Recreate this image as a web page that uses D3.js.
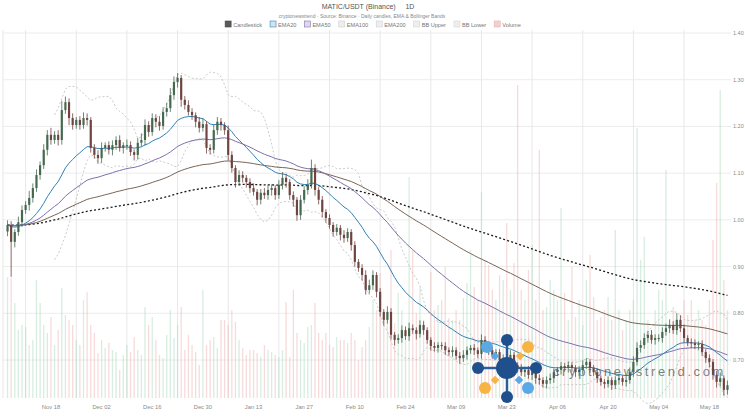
<!DOCTYPE html>
<html><head><meta charset="utf-8">
<script src="https://cdn.jsdelivr.net/npm/d3@7"></script>
<style>body{margin:0;background:#fff;} svg{display:block;font-family:"Liberation Sans","DejaVu Sans",sans-serif;}</style>
</head><body><svg id="c" width="745" height="419"></svg>
<script>
const titleText = "MATIC/USDT (Binance)     1D";
const subtitleText = "cryptonewstrend · Source: Binance · Daily candles, EMA & Bollinger Bands";
const startDate = "2023-11-06";
const closes = [
0.989,0.953,0.974,0.995,1.021,1.032,1.047,1.068,1.096,1.117,
1.150,1.182,1.171,1.182,1.171,1.235,1.252,1.218,1.203,1.214,
1.203,1.218,1.214,1.154,1.139,1.132,1.154,1.160,1.150,1.160,
1.171,1.154,1.160,1.160,1.145,1.139,1.165,1.171,1.203,1.188,
1.218,1.210,1.201,1.231,1.239,1.267,1.295,1.304,1.257,1.246,
1.231,1.224,1.210,1.197,1.205,1.154,1.150,1.192,1.210,1.203,
1.192,1.139,1.111,1.081,1.096,1.090,1.081,1.068,1.060,1.043,
1.058,1.053,1.064,1.068,1.053,1.075,1.090,1.081,1.053,1.043,
1.010,1.043,1.064,1.075,1.111,1.064,1.043,1.017,1.004,0.989,
0.974,0.983,0.968,0.961,0.974,0.946,0.910,0.897,0.882,0.850,
0.860,0.882,0.846,0.803,0.786,0.803,0.754,0.743,0.747,0.764,
0.751,0.768,0.764,0.756,0.775,0.764,0.743,0.730,0.726,0.732,
0.730,0.721,0.717,0.721,0.709,0.704,0.711,0.721,0.726,0.721,
0.713,0.743,0.732,0.721,0.711,0.717,0.700,0.704,0.696,0.711,
0.689,0.683,0.674,0.679,0.668,0.674,0.661,0.657,0.649,0.657,
0.661,0.674,0.679,0.687,0.683,0.689,0.683,0.674,0.679,0.689,
0.696,0.683,0.674,0.661,0.653,0.649,0.657,0.646,0.657,0.661,
0.653,0.657,0.674,0.696,0.726,0.732,0.747,0.754,0.743,0.747,
0.747,0.760,0.768,0.775,0.764,0.786,0.768,0.747,0.738,0.736,
0.732,0.734,0.717,0.704,0.696,0.668,0.653,0.661,0.636,0.646];
const opens = [
0.975,0.989,0.953,0.974,0.995,1.021,1.032,1.047,1.068,1.096,
1.117,1.150,1.182,1.171,1.182,1.171,1.235,1.252,1.218,1.203,
1.214,1.203,1.218,1.214,1.154,1.139,1.132,1.154,1.160,1.150,
1.160,1.171,1.154,1.160,1.160,1.145,1.139,1.165,1.171,1.203,
1.188,1.218,1.210,1.201,1.231,1.239,1.267,1.295,1.304,1.257,
1.246,1.231,1.224,1.210,1.197,1.205,1.154,1.150,1.192,1.210,
1.203,1.192,1.139,1.111,1.081,1.096,1.090,1.081,1.068,1.060,
1.043,1.058,1.053,1.064,1.068,1.053,1.075,1.090,1.081,1.053,
1.043,1.010,1.043,1.064,1.075,1.111,1.064,1.043,1.017,1.004,
0.989,0.974,0.983,0.968,0.961,0.974,0.946,0.910,0.897,0.882,
0.850,0.860,0.882,0.846,0.803,0.786,0.803,0.754,0.743,0.747,
0.764,0.751,0.768,0.764,0.756,0.775,0.764,0.743,0.730,0.726,
0.732,0.730,0.721,0.717,0.721,0.709,0.704,0.711,0.721,0.726,
0.721,0.713,0.743,0.732,0.721,0.711,0.717,0.700,0.704,0.696,
0.711,0.689,0.683,0.674,0.679,0.668,0.674,0.661,0.657,0.649,
0.657,0.661,0.674,0.679,0.687,0.683,0.689,0.683,0.674,0.679,
0.689,0.696,0.683,0.674,0.661,0.653,0.649,0.657,0.646,0.657,
0.661,0.653,0.657,0.674,0.696,0.726,0.732,0.747,0.754,0.743,
0.747,0.747,0.760,0.768,0.775,0.764,0.786,0.768,0.747,0.738,
0.736,0.732,0.734,0.717,0.704,0.696,0.668,0.653,0.661,0.636];
const wickHi = [
0.010,0.008,0.006,0.012,0.010,0.008,0.015,0.010,0.012,0.008,
0.012,0.010,0.015,0.008,0.010,0.020,0.012,0.008,0.010,0.006,
0.008,0.012,0.010,0.006,0.008,0.010,0.012,0.006,0.008,0.010,
0.008,0.010,0.006,0.012,0.008,0.006,0.010,0.014,0.012,0.008,
0.010,0.008,0.012,0.010,0.012,0.015,0.012,0.010,0.006,0.008,
0.010,0.008,0.006,0.010,0.012,0.006,0.008,0.012,0.010,0.008,
0.006,0.010,0.008,0.006,0.010,0.008,0.006,0.008,0.010,0.006,
0.008,0.010,0.012,0.008,0.006,0.010,0.012,0.008,0.006,0.008,
0.006,0.010,0.008,0.012,0.018,0.008,0.006,0.008,0.006,0.008,
0.006,0.008,0.006,0.010,0.008,0.006,0.008,0.006,0.008,0.010,
0.012,0.010,0.006,0.008,0.006,0.012,0.008,0.006,0.008,0.010,
0.008,0.012,0.008,0.006,0.010,0.008,0.006,0.006,0.008,0.006,
0.006,0.008,0.006,0.008,0.006,0.008,0.010,0.008,0.006,0.008,
0.006,0.012,0.008,0.006,0.008,0.006,0.006,0.008,0.006,0.010,
0.006,0.006,0.008,0.006,0.008,0.006,0.006,0.008,0.006,0.008,
0.010,0.008,0.006,0.008,0.006,0.008,0.006,0.006,0.008,0.010,
0.008,0.006,0.006,0.008,0.006,0.006,0.008,0.006,0.008,0.006,
0.006,0.008,0.010,0.012,0.012,0.010,0.010,0.008,0.010,0.008,
0.008,0.010,0.010,0.012,0.008,0.014,0.010,0.008,0.006,0.008,
0.008,0.006,0.008,0.006,0.008,0.006,0.008,0.012,0.006,0.010];
const wickLo = [
0.010,0.075,0.012,0.008,0.010,0.008,0.012,0.010,0.008,0.010,
0.008,0.012,0.010,0.008,0.012,0.010,0.008,0.015,0.010,0.008,
0.010,0.008,0.012,0.010,0.008,0.012,0.010,0.008,0.010,0.012,
0.010,0.008,0.012,0.010,0.008,0.012,0.010,0.008,0.012,0.010,
0.008,0.012,0.010,0.008,0.010,0.008,0.010,0.012,0.015,0.010,
0.008,0.010,0.012,0.010,0.008,0.012,0.010,0.008,0.010,0.012,
0.010,0.012,0.010,0.012,0.008,0.010,0.012,0.010,0.008,0.012,
0.010,0.008,0.010,0.012,0.010,0.008,0.010,0.012,0.010,0.015,
0.012,0.010,0.008,0.010,0.008,0.012,0.010,0.012,0.010,0.008,
0.010,0.008,0.012,0.010,0.008,0.012,0.010,0.008,0.012,0.010,
0.008,0.010,0.012,0.010,0.012,0.008,0.010,0.012,0.008,0.010,
0.008,0.010,0.008,0.012,0.008,0.010,0.008,0.010,0.008,0.010,
0.008,0.010,0.008,0.010,0.008,0.012,0.008,0.010,0.008,0.010,
0.008,0.010,0.008,0.010,0.008,0.010,0.008,0.010,0.008,0.010,
0.008,0.010,0.008,0.010,0.008,0.010,0.012,0.010,0.008,0.010,
0.008,0.010,0.008,0.010,0.008,0.010,0.008,0.010,0.008,0.010,
0.008,0.010,0.008,0.010,0.008,0.010,0.008,0.010,0.008,0.010,
0.008,0.010,0.008,0.010,0.008,0.010,0.008,0.010,0.008,0.010,
0.008,0.010,0.008,0.010,0.008,0.010,0.008,0.010,0.008,0.010,
0.008,0.010,0.008,0.010,0.012,0.010,0.012,0.010,0.012,0.010];
const volumes = [
121,120,95,68,73,71,53,58,118,95,
73,65,81,53,68,110,83,78,73,58,
53,98,106,73,65,45,58,50,55,48,
46,28,43,53,46,61,48,43,91,73,
81,58,43,40,63,88,60,73,91,48,
63,53,46,33,108,53,58,61,50,78,
78,73,88,76,58,50,43,48,48,45,
41,53,48,46,43,41,48,96,41,108,
65,58,55,71,73,95,65,58,65,53,
51,61,58,58,55,65,58,38,51,58,
71,98,88,125,81,78,148,75,105,88,
58,221,148,85,111,78,68,126,88,93,
98,131,80,78,88,78,100,115,148,111,
98,206,138,133,108,98,123,118,175,108,
135,313,108,98,128,153,98,248,88,91,
118,108,98,190,105,78,131,81,98,73,
118,143,101,78,81,88,101,78,168,88,
68,78,88,98,270,138,161,78,68,88,
108,98,228,68,91,68,81,98,83,98,
78,88,78,73,98,158,215,308,118,88];
const priceTicks = [1.40,1.30,1.20,1.10,1.00,0.90,0.80,0.70];
const dateLabels = ["2023-11-18","2023-12-02","2023-12-16","2023-12-30","2024-01-13","2024-01-27","2024-02-10","2024-02-24","2024-03-09","2024-03-23","2024-04-06","2024-04-20","2024-05-04","2024-05-18"];
const gridDates = ["2023-11-11","2023-11-25","2023-12-09","2023-12-23","2024-01-06","2024-01-20","2024-02-03","2024-02-17","2024-03-02","2024-03-16","2024-03-30","2024-04-13","2024-04-27","2024-05-11"];
const legendItems = [
 {name:"Candlestick", fill:"#5a5a5a", stroke:"#444"},
 {name:"EMA20", fill:"#cfe3f3", stroke:"#3b86b8"},
 {name:"EMA50", fill:"#ddd8ee", stroke:"#8073b0"},
 {name:"EMA100", fill:"#eeeeee", stroke:"#cfcfcf"},
 {name:"EMA200", fill:"#eeeeee", stroke:"#cfcfcf"},
 {name:"BB Upper", fill:"#eeeeee", stroke:"#d5d5d5"},
 {name:"BB Lower", fill:"#eeeeee", stroke:"#d5d5d5"},
 {name:"Volume", fill:"#f2d0d0", stroke:"#e4b4b4"}];

const parse = d3.timeParse("%Y-%m-%d");
const start = parse(startDate);
const data = closes.map((c,i)=>({
  date: d3.timeDay.offset(start, i), key: d3.timeFormat("%Y-%m-%d")(d3.timeDay.offset(start, i)),
  open: opens[i], close: c,
  high: Math.max(opens[i], c) + wickHi[i], low: Math.min(opens[i], c) - wickLo[i],
  vol: volumes[i]}));

const svg = d3.select("#c");
const plot = {l:3, r:731, t:30, b:398};

const x = d3.scaleBand().domain(data.map(d=>d.key)).range([5, 730]).padding(0.4);
const cx = k => x(k) + x.bandwidth()/2;
const y = d3.scaleLinear().domain([0.70, 1.40]).range([360, 33]);
const yV = d3.scaleLinear().domain([0, 368]).range([398, 30]);

// grid
const g = svg.append("g");
g.selectAll(".hg").data(priceTicks).join("line")
  .attr("x1", plot.l).attr("x2", plot.r).attr("y1", d=>y(d)).attr("y2", d=>y(d))
  .attr("stroke", "#ececec").attr("stroke-width", 1);
g.selectAll(".vg").data(gridDates).join("line")
  .attr("x1", d=>cx(d)).attr("x2", d=>cx(d)).attr("y1", plot.t).attr("y2", plot.b)
  .attr("stroke", "#e8e8e8").attr("stroke-width", 1);
g.append("line").attr("x1", plot.l).attr("x2", plot.l).attr("y1", plot.t).attr("y2", plot.b).attr("stroke","#e6e6e6");

// volume
svg.append("g").selectAll("line").data(data).join("line")
  .attr("x1", d=>cx(d.key)).attr("x2", d=>cx(d.key))
  .attr("y1", yV(0)).attr("y2", d=>yV(d.vol))
  .attr("stroke", d=> d.close >= d.open ? "#a6d8bb" : "#eeb0b0")
  .attr("stroke-opacity", 0.45).attr("stroke-width", 1.3);

// indicators
function ema(arr, n){ const k = 2/(n+1); const out=[]; arr.forEach((v,i)=>out.push(i===0? v : v*k + out[i-1]*(1-k))); return out; }
function bb(arr, n, m){ return arr.map((v,i)=>{ if(i<n-1) return null; const w = arr.slice(i-n+1, i+1); const mu = d3.mean(w); const sd = Math.sqrt(d3.mean(w, z=>(z-mu)*(z-mu))); return {u: mu+m*sd, l: mu-m*sd}; }); }
const e20 = ema(closes, 20), e50 = ema(closes, 50), e100 = ema(closes, 100), e200 = ema(closes, 200);
const bands = bb(closes, 14, 2);

const line = arr => d3.line().defined((d,i)=>arr[i]!=null).x((d,i)=>cx(data[i].key)).y((d,i)=>y(arr[i]))(data);
const ind = svg.append("g").attr("fill","none");
ind.append("path").attr("d", line(bands.map(b=>b&&b.u))).attr("stroke","#bdbdbd").attr("stroke-width",0.8).attr("stroke-dasharray","2,2");
ind.append("path").attr("d", line(bands.map(b=>b&&b.l))).attr("stroke","#bdbdbd").attr("stroke-width",0.8).attr("stroke-dasharray","2,2");
ind.append("path").attr("d", line(e200)).attr("stroke","#1a1a1a").attr("stroke-width",1.3).attr("stroke-dasharray","2,2.2");
ind.append("path").attr("d", line(e100)).attr("stroke","#6b5242").attr("stroke-width",0.9);
ind.append("path").attr("d", line(e50)).attr("stroke","#7d70ad").attr("stroke-width",1);
ind.append("path").attr("d", line(e20)).attr("stroke","#2f82b5").attr("stroke-width",1);

// candles
const cg = svg.append("g");
const col = d => d.close >= d.open ? "#44694f" : "#6f4440";
cg.selectAll(".w").data(data).join("line")
  .attr("x1", d=>cx(d.key)).attr("x2", d=>cx(d.key)).attr("y1", d=>y(d.high)).attr("y2", d=>y(d.low))
  .attr("stroke", col).attr("stroke-width", 0.8);
cg.selectAll(".b").data(data).join("rect")
  .attr("x", d=>x(d.key)).attr("width", x.bandwidth())
  .attr("y", d=>y(Math.max(d.open,d.close)))
  .attr("height", d=>Math.max(1, Math.abs(y(d.open)-y(d.close))))
  .attr("fill", col);

// axes labels
const fmt = d3.format(".2f");
svg.append("g").selectAll("text").data(priceTicks).join("text")
  .attr("x", 733).attr("y", d=>y(d)+2).attr("font-size", 5.5).attr("fill","#8a8a8a").text(d=>fmt(d));
const dfmt = d3.timeFormat("%b %d");
svg.append("g").selectAll("text").data(dateLabels).join("text")
  .attr("x", d=>cx(d)).attr("y", 409).attr("text-anchor","middle").attr("font-size", 5.8).attr("fill","#8a8a8a")
  .text(d=>dfmt(parse(d)));

// title / subtitle
svg.append("text").attr("x", 368).attr("y", 9).attr("text-anchor","middle").attr("font-size", 7).attr("fill","#555").style("white-space","pre").text(titleText);
svg.append("text").attr("x", 362).attr("y", 17.5).attr("text-anchor","middle").attr("font-size", 5).attr("fill","#888").text(subtitleText);

// legend
const lg = svg.append("g");
let lx = 0;
legendItems.forEach(it=>{
  const gi = lg.append("g").attr("transform", `translate(${lx},0)`);
  gi.append("rect").attr("x",0).attr("y",-5).attr("width",6).attr("height",6).attr("fill",it.fill).attr("stroke",it.stroke).attr("stroke-width",0.6);
  const t = gi.append("text").attr("x",8).attr("y",0.5).attr("font-size",5.6).attr("fill","#777").text(it.name);
  lx += 8 + t.node().getComputedTextLength() + 8;
});
lg.attr("transform", `translate(${373 - (lx-8)/2},26)`);

// watermark
const wm = svg.append("g");
wm.append("text").attr("x", 553).attr("y", 376).attr("font-size", 13).attr("letter-spacing", 2.6).attr("fill","#555").attr("fill-opacity",0.75).text("cryptonewstrend.com");
const lc = [507, 368];
const spokes = [[0,-28],[-29,0],[29,0],[0,29]];
spokes.forEach(s=> wm.append("line").attr("x1",lc[0]).attr("y1",lc[1]).attr("x2",lc[0]+s[0]).attr("y2",lc[1]+s[1]).attr("stroke","#2b5d98").attr("stroke-width",2.5));
wm.append("circle").attr("cx",lc[0]).attr("cy",lc[1]).attr("r",11).attr("fill","#1f4f8c");
spokes.forEach(s=> wm.append("circle").attr("cx",lc[0]+s[0]).attr("cy",lc[1]+s[1]).attr("r",6).attr("fill","#1f4f8c"));
[[-20,-21,"#5aa8e6"],[21,-21,"#f5b443"],[-22,20,"#f5b443"],[21,20,"#5aa8e6"]].forEach(c=> wm.append("circle").attr("cx",lc[0]+c[0]).attr("cy",lc[1]+c[1]).attr("r",6).attr("fill",c[2]));
[[-12,-12,"#5aa8e6"],[13,-12,"#f5b443"],[-12,12,"#f5b443"],[12,12,"#5aa8e6"]].forEach(c=> wm.append("rect").attr("x",lc[0]+c[0]-3).attr("y",lc[1]+c[1]-3).attr("width",6).attr("height",6).attr("transform",`rotate(45,${lc[0]+c[0]},${lc[1]+c[1]})`).attr("fill",c[2]));
</script></body></html>
